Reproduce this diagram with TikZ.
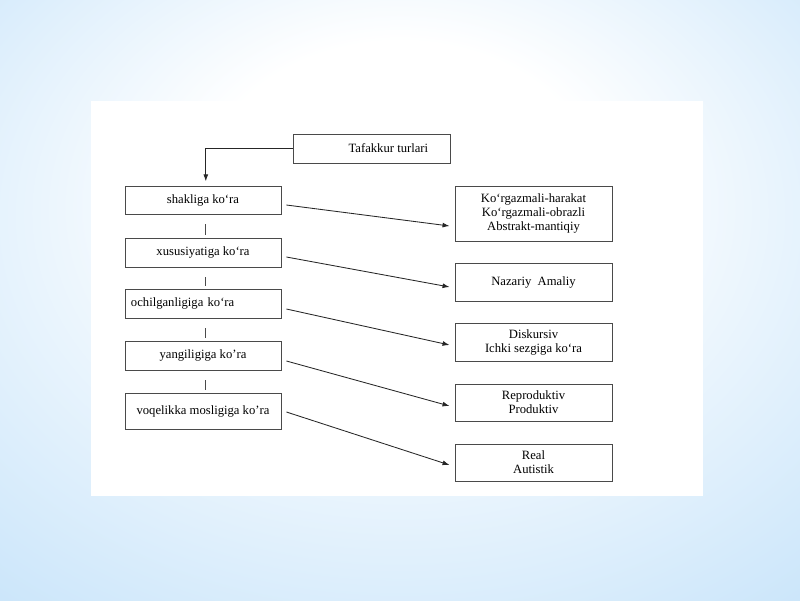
\documentclass[tikz,border=0pt]{standalone}
\usepackage{fontspec}
\setmainfont{Liberation Serif}
\usetikzlibrary{arrows.meta}
\definecolor{skylt}{HTML}{D4EAFB}
\definecolor{skydk}{HTML}{A6D3F6}
\definecolor{edge}{HTML}{4A4A4A}
\pgfdeclareradialshading{sky}{\pgfpoint{0bp}{12bp}}{color(0bp)=(white); color(12bp)=(white); color(34bp)=(skylt); color(58bp)=(skydk)}

\begin{document}
\begin{tikzpicture}[x=0.025cm, y=-0.025cm,
    box/.style={draw=edge, line width=0.6pt, inner sep=1pt, align=center, font=\fontsize{9}{10}\selectfont},
    tip/.style={draw=black!85, line width=0.6pt, -{Latex[length=5pt, width=3.5pt]}}]
    \useasboundingbox (0,0) rectangle (800,600);
    \shade[shading=sky] (0,0) rectangle (800,600);
    \fill[white] (91,101) rectangle (703,496);

    \node[box, minimum width=3.925cm, minimum height=0.725cm] (tur) at (371.5,148.5) {\hspace*{24pt}Tafakkur turlari};

    \node[box, minimum width=3.9cm, minimum height=0.7cm] (shak) at (203,200) {shakliga ko‘ra};
    \node[box, minimum width=3.9cm, minimum height=0.725cm] (xus) at (203,252.5) {xususiyatiga ko‘ra};
    \node[box, align=left, text width=3.6cm, inner xsep=0.15cm, minimum height=0.725cm] (ochil) at (203,303.5) {ochilganligiga ko‘ra};
    \node[box, minimum width=3.9cm, minimum height=0.725cm] (yang) at (203,355.5) {yangiligiga ko’ra};
    \node[box, minimum width=3.9cm, minimum height=0.9cm] (voq) at (203,411) {voqelikka mosligiga ko’ra};

    \node[box, minimum width=3.925cm, minimum height=1.375cm] (r1) at (533.5,213.5) {Ko‘rgazmali-harakat\\Ko‘rgazmali-obrazli\\Abstrakt-mantiqiy};
    \node[box, minimum width=3.925cm, minimum height=0.95cm] (r2) at (533.5,282) {Nazariy\ \ Amaliy};
    \node[box, minimum width=3.925cm, minimum height=0.95cm] (r3) at (533.5,342) {Diskursiv\\Ichki sezgiga ko‘ra};
    \node[box, minimum width=3.925cm, minimum height=0.925cm] (r4) at (533.5,402.5) {Reproduktiv\\Produktiv};
    \node[box, minimum width=3.925cm, minimum height=0.925cm] (r5) at (533.5,462.5) {Real\\Autistik};

    \draw[tip, shorten >=3pt] (tur.west) -| ([xshift=2pt]shak.north);

    \draw[edge, line width=0.6pt, shorten <=7pt, shorten >=2pt] ([xshift=2pt]shak.south) -- ([xshift=2pt]xus.north);
    \draw[edge, line width=0.6pt, shorten <=7pt, shorten >=2pt] ([xshift=2pt]xus.south) -- ([xshift=2pt]ochil.north);
    \draw[edge, line width=0.6pt, shorten <=7pt, shorten >=2pt] ([xshift=2pt]ochil.south) -- ([xshift=2pt]yang.north);
    \draw[edge, line width=0.6pt, shorten <=7pt, shorten >=2pt] ([xshift=2pt]yang.south) -- ([xshift=2pt]voq.north);

    \draw[tip] ([shift={(5,5)}]shak.east) -- ([shift={(-5,12.5)}]r1.west);
    \draw[tip] ([shift={(5,4.5)}]xus.east) -- ([shift={(-5,5)}]r2.west);
    \draw[tip] ([shift={(5,5.5)}]ochil.east) -- ([shift={(-5,3)}]r3.west);
    \draw[tip] ([shift={(5,5.5)}]yang.east) -- ([shift={(-5,3.5)}]r4.west);
    \draw[tip] ([shift={(5,1)}]voq.east) -- ([shift={(-5,2.5)}]r5.west);
\end{tikzpicture}
\end{document}
